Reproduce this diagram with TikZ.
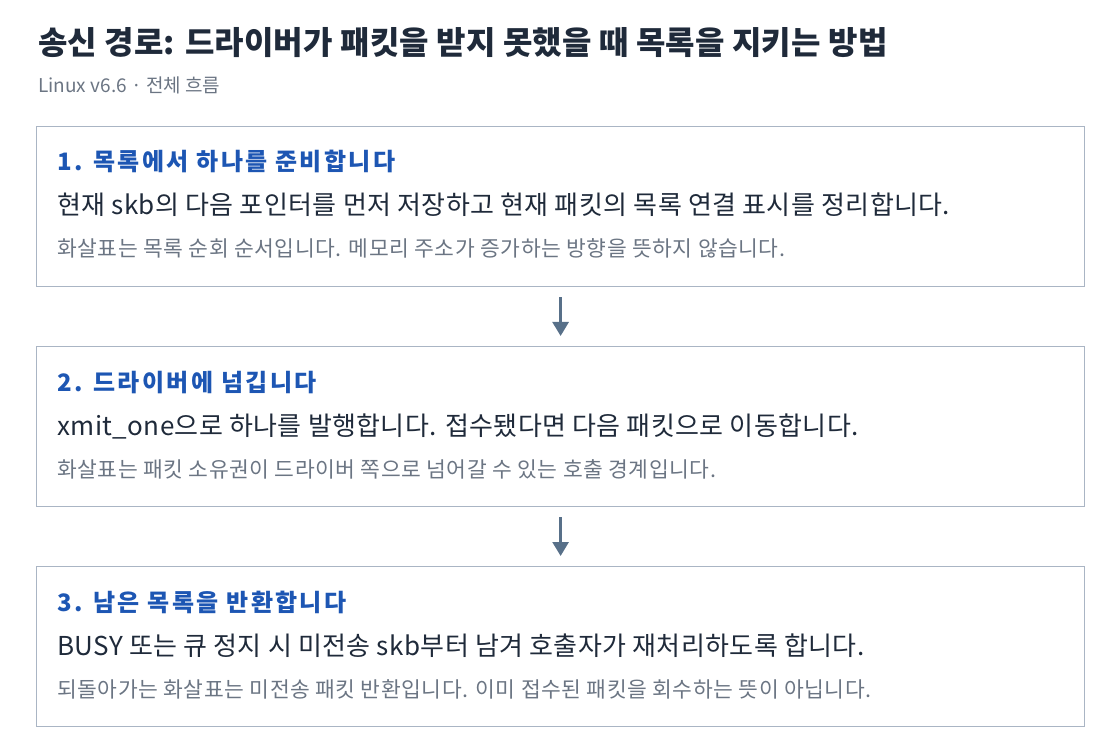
\documentclass[tikz,border=0pt]{standalone}
\usepackage{fontspec}
\setmainfont{Noto Sans CJK KR}
\usetikzlibrary{positioning,arrows.meta}

\definecolor{inkdark}{HTML}{1F2A3A}
\definecolor{inkblue}{HTML}{1D56B3}
\definecolor{inkgray}{HTML}{6B7583}
\definecolor{edgegray}{HTML}{AAB5C4}
\definecolor{arrowslate}{HTML}{587089}

\tikzset{
  stepbox/.style={draw=edgegray, line width=1.2pt, minimum width=1048pt, minimum height=160pt, inner sep=0pt, anchor=north west},
  heading/.style={anchor=base west, inner sep=0pt, text=inkblue, font=\fontsize{24}{28}\selectfont\bfseries\addfontfeatures{LetterSpace=10}},
  body/.style={anchor=base west, inner sep=0pt, text=inkdark, font=\fontsize{26}{32}\selectfont\addfontfeatures{LetterSpace=1.5}},
  note/.style={anchor=base west, inner sep=0pt, text=inkgray, font=\fontsize{21.5}{26}\selectfont\addfontfeatures{LetterSpace=2.5}},
  flow/.style={draw=arrowslate, line width=2.6pt, -{Triangle[width=16pt,length=14pt]}, shorten <=10pt, shorten >=10pt}
}

\begin{document}
\begin{tikzpicture}[x=1pt,y=-1pt]
\useasboundingbox (0,0) rectangle (1120,754);

\def\xa{36}
\def\ya{126}
\def\dy{220}

\node[anchor=base west, inner sep=0pt, text=inkdark, font=\fontsize{32}{38}\selectfont\bfseries\addfontfeatures{LetterSpace=0.5}] (title) at (38,55) {송신 경로: 드라이버가 패킷을 받지 못했을 때 목록을 지키는 방법};
\node[anchor=base west, inner sep=0pt, text=inkgray, font=\fontsize{19}{23}\selectfont] (sub) at (38,93) {Linux v6.6 · 전체 흐름};

\node[stepbox] (box1) at (\xa, \ya) {};
\node[stepbox] (box2) at (\xa, \ya + \dy) {};
\node[stepbox] (box3) at (\xa, \ya + 2 * \dy) {};

\node[heading] (h1) at ([shift={(21,45)}]box1.north west) {1. 목록에서 하나를 준비합니다};
\node[body] (b1) at ([shift={(21,89)}]box1.north west) {현재 skb의 다음 포인터를 먼저 저장하고 현재 패킷의 목록 연결 표시를 정리합니다.};
\node[note] (n1) at ([shift={(21,131)}]box1.north west) {화살표는 목록 순회 순서입니다. 메모리 주소가 증가하는 방향을 뜻하지 않습니다.};

\node[heading] (h2) at ([shift={(21,45)}]box2.north west) {2. 드라이버에 넘깁니다};
\node[body] (b2) at ([shift={(21,89)}]box2.north west) {xmit\_one으로 하나를 발행합니다. 접수됐다면 다음 패킷으로 이동합니다.};
\node[note] (n2) at ([shift={(21,131)}]box2.north west) {화살표는 패킷 소유권이 드라이버 쪽으로 넘어갈 수 있는 호출 경계입니다.};

\node[heading] (h3) at ([shift={(21,45)}]box3.north west) {3. 남은 목록을 반환합니다};
\node[body] (b3) at ([shift={(21,89)}]box3.north west) {BUSY 또는 큐 정지 시 미전송 skb부터 남겨 호출자가 재처리하도록 합니다.};
\node[note] (n3) at ([shift={(21,131)}]box3.north west) {되돌아가는 화살표는 미전송 패킷 반환입니다. 이미 접수된 패킷을 회수하는 뜻이 아닙니다.};

\draw[flow] (box1.south) -- (box2.north);
\draw[flow] (box2.south) -- (box3.north);

\end{tikzpicture}
\end{document}
